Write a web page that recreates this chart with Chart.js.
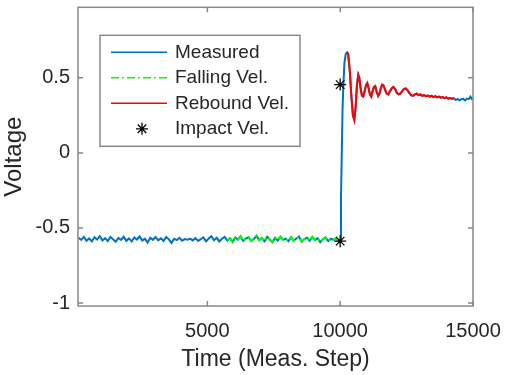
<!DOCTYPE html>
<html>
<head>
<meta charset="utf-8">
<script src="https://cdn.jsdelivr.net/npm/chart.js@4.4.1/dist/chart.umd.min.js"></script>
<style>
  html, body { margin: 0; padding: 0; background: #fff; }
</style>
</head>
<body>
<canvas id="chart" width="505" height="375"></canvas>
<script>
// Measured signal (time in measurement steps, voltage)
const measuredSteps = [
  150, 250, 350, 450, 550, 650, 750, 850, 950, 1050,
  1150, 1250, 1350, 1450, 1550, 1650, 1750, 1850, 1950, 2050,
  2150, 2250, 2350, 2450, 2550, 2650, 2750, 2850, 2950, 3050,
  3150, 3250, 3350, 3450, 3550, 3650, 3750, 3850, 3950, 4050,
  4150, 4250, 4350, 4450, 4550, 4650, 4750, 4850, 4950, 5050,
  5150, 5250, 5350, 5450, 5550, 5650, 5750, 5850, 5950, 6050,
  6150, 6250, 6350, 6450, 6550, 6650, 6750, 6850, 6950, 7050,
  7150, 7250, 7350, 7450, 7550, 7650, 7750, 7850, 7950, 8050,
  8150, 8250, 8350, 8450, 8550, 8650, 8750, 8850, 8950, 9050,
  9150, 9250, 9350, 9450, 9550, 9650, 9750, 9850, 9950,
  10000, 10030, 10060, 10090, 10120, 10160, 10210, 10260, 10300, 10360,
  10420, 10480, 10530, 10580, 10630, 10680, 10720, 10770, 10820, 10870,
  10920, 10970, 11020, 11070, 11120, 11170, 11220, 11270, 11320, 11370,
  11430, 11480, 11530, 11580, 11630, 11690, 11750, 11810, 11870, 11940,
  12000, 12070, 12130, 12200, 12260, 12330, 12400, 12460, 12530, 12600,
  12670, 12740, 12810, 12880, 12950, 13020, 13090, 13160, 13230, 13300,
  13370, 13440, 13510, 13580, 13650, 13720, 13790, 13860, 13930, 14000,
  14070, 14140, 14210, 14280, 14350, 14420, 14490, 14560, 14630, 14700,
  14770, 14840, 14900, 14950, 15000
];
const measuredVolts = [
  -0.565, -0.58, -0.56, -0.585, -0.57, -0.59, -0.562, -0.578, -0.555, -0.583,
  -0.568, -0.588, -0.56, -0.575, -0.592, -0.566, -0.58, -0.558, -0.586, -0.57,
  -0.59, -0.563, -0.577, -0.556, -0.584, -0.571, -0.598, -0.565, -0.579, -0.56,
  -0.582, -0.569, -0.587, -0.561, -0.576, -0.6, -0.572, -0.581, -0.566, -0.585,
  -0.574, -0.579, -0.571, -0.583, -0.568, -0.586, -0.575, -0.563, -0.589, -0.57,
  -0.555, -0.582, -0.566, -0.59, -0.572, -0.559, -0.584, -0.569, -0.593, -0.564,
  -0.578, -0.556, -0.587, -0.571, -0.562, -0.586, -0.574, -0.552, -0.581, -0.567,
  -0.589, -0.56, -0.577, -0.595, -0.566, -0.583, -0.558, -0.579, -0.571, -0.588,
  -0.562, -0.584, -0.57, -0.557, -0.591, -0.574, -0.565, -0.586, -0.56, -0.58,
  -0.569, -0.594, -0.575, -0.563, -0.587, -0.572, -0.58, -0.566, -0.59,
  -0.58, -0.3, 0.0, 0.3, 0.45, 0.6, 0.66, 0.67, 0.66, 0.55,
  0.38, 0.25, 0.22, 0.3, 0.45, 0.52, 0.5, 0.43, 0.38, 0.375,
  0.41, 0.45, 0.465, 0.43, 0.39, 0.375, 0.41, 0.44, 0.445, 0.41,
  0.38, 0.395, 0.43, 0.455, 0.45, 0.42, 0.395, 0.39, 0.41, 0.43,
  0.44, 0.425, 0.4, 0.39, 0.395, 0.41, 0.425, 0.43, 0.42, 0.4,
  0.385, 0.38, 0.39, 0.395, 0.385, 0.39, 0.38, 0.385, 0.378, 0.382,
  0.375, 0.38, 0.372, 0.378, 0.37, 0.375, 0.368, 0.372, 0.365, 0.37,
  0.362, 0.366, 0.36, 0.365, 0.352, 0.36, 0.35, 0.358, 0.36, 0.35,
  0.362, 0.358, 0.375, 0.36, 0.365
];

// Segments picked out of the measured signal
const fallingRange = [5750, 9950];
const reboundRange = [10260, 14280];

// Impact velocity markers
const impactSteps = [10000, 10000];
const impactVolts = [-0.588, 0.455];

// Axis ticks
const xTicks = [5000, 10000, 15000];
const yTicks = [-1, -0.5, 0, 0.5];

const textColor = '#262626';
const axisColor = '#888888';
const fontFamily = '"Liberation Sans", Arial, sans-serif';

const measuredPoints = measuredSteps.map((s, i) => ({ x: s, y: measuredVolts[i] }));
const inRange = (r) => measuredPoints.filter(p => p.x >= r[0] && p.x <= r[1]);
const impactPoints = impactSteps.map((s, i) => ({ x: s, y: impactVolts[i] }));

// Box, inward ticks and MATLAB-like legend
const framePlugin = {
  id: 'frame',
  afterDatasetsDraw(chart) {
    const { ctx, chartArea: a, scales } = chart;
    ctx.save();
    ctx.strokeStyle = axisColor;
    ctx.lineWidth = 1.5;
    ctx.strokeRect(a.left, a.top, a.right - a.left, a.bottom - a.top);
    ctx.beginPath();
    xTicks.forEach(v => {
      const px = scales.x.getPixelForValue(v);
      ctx.moveTo(px, a.bottom); ctx.lineTo(px, a.bottom - 5);
      ctx.moveTo(px, a.top); ctx.lineTo(px, a.top + 5);
    });
    yTicks.forEach(v => {
      const py = scales.y.getPixelForValue(v);
      ctx.moveTo(a.left, py); ctx.lineTo(a.left + 5, py);
      ctx.moveTo(a.right, py); ctx.lineTo(a.right - 5, py);
    });
    ctx.stroke();

    // legend
    const bx = a.left + 22, by = a.top + 28, bw = 200, bh = 111;
    ctx.fillStyle = '#fff';
    ctx.fillRect(bx, by, bw, bh);
    ctx.strokeStyle = axisColor;
    ctx.lineWidth = 1.5;
    ctx.strokeRect(bx, by, bw, bh);

    ctx.font = '19px ' + fontFamily;
    ctx.textBaseline = 'middle';
    chart.data.datasets.forEach((ds, row) => {
      const ry = by + 17 + row * 25.5;
      if (ds.showLine === false) {
        const cx = bx + 42, r = 6;
        ctx.strokeStyle = ds.borderColor;
        ctx.lineWidth = 1.3;
        ctx.beginPath();
        for (let k = 0; k < 4; k++) {
          const ang = k * Math.PI / 4;
          ctx.moveTo(cx - r * Math.cos(ang), ry - r * Math.sin(ang));
          ctx.lineTo(cx + r * Math.cos(ang), ry + r * Math.sin(ang));
        }
        ctx.stroke();
      } else {
        ctx.strokeStyle = ds.borderColor;
        ctx.lineWidth = 1.5;
        ctx.setLineDash(ds.borderDash || []);
        ctx.beginPath();
        ctx.moveTo(bx + 11, ry);
        ctx.lineTo(bx + 67, ry);
        ctx.stroke();
        ctx.setLineDash([]);
      }
      ctx.fillStyle = textColor;
      ctx.fillText(ds.label, bx + 75, ry);
    });
    ctx.restore();
  }
};

new Chart(document.getElementById('chart'), {
  type: 'line',
  data: {
    datasets: [
      {
        label: 'Measured',
        data: measuredPoints,
        borderColor: '#0072BD',
        borderWidth: 2,
        pointRadius: 0,
        order: 4,
      },
      {
        label: 'Falling Vel.',
        data: inRange(fallingRange),
        borderColor: '#00FF00',
        borderWidth: 2,
        borderDash: [8, 3, 2, 3],
        pointRadius: 0,
        order: 3,
      },
      {
        label: 'Rebound Vel.',
        data: inRange(reboundRange),
        borderColor: '#FF0000',
        borderWidth: 2,
        pointRadius: 0,
        order: 2,
      },
      {
        label: 'Impact Vel.',
        data: impactPoints,
        showLine: false,
        borderColor: '#000000',
        backgroundColor: '#000000',
        borderWidth: 1.3,
        pointStyle: 'star',
        pointRadius: 6,
        order: 1,
      },
    ],
  },
  options: {
    responsive: false,
    animation: false,
    layout: { padding: { top: 2, right: 32, left: 0, bottom: 0 } },
    plugins: {
      legend: { display: false },
      tooltip: { enabled: false },
    },
    scales: {
      x: {
        type: 'linear',
        min: 130,
        max: 15000,
        grid: { display: false, drawTicks: false },
        border: { display: false },
        afterBuildTicks: (s) => { s.ticks = xTicks.map(v => ({ value: v })); },
        afterFit: (s) => { s.height = 69; s.paddingLeft = 0; s.paddingRight = 0; },
        ticks: {
          color: textColor,
          font: { family: fontFamily, size: 20 },
          padding: 13,
          maxRotation: 0,
          callback: (v) => String(v),
        },
        title: {
          display: true,
          text: 'Time (Meas. Step)',
          color: textColor,
          font: { family: fontFamily, size: 23 },
          padding: { top: 0, bottom: 2 },
        },
      },
      y: {
        min: -1.02,
        max: 0.97,
        grid: { display: false, drawTicks: false },
        border: { display: false },
        afterBuildTicks: (s) => { s.ticks = yTicks.map(v => ({ value: v })); },
        afterFit: (s) => { s.width = 78; s.paddingTop = 0; s.paddingBottom = 0; },
        ticks: {
          color: textColor,
          font: { family: fontFamily, size: 20 },
          padding: 8,
          callback: (v) => String(v),
        },
        title: {
          display: true,
          text: 'Voltage',
          color: textColor,
          font: { family: fontFamily, size: 24 },
          padding: { top: 0, bottom: 0 },
        },
      },
    },
  },
  plugins: [framePlugin],
});
</script>
</body>
</html>
